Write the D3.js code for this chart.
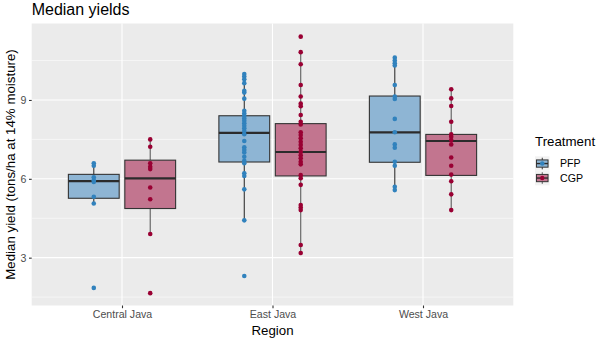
<!DOCTYPE html>
<html>
<head>
<meta charset="utf-8">
<script src="https://cdn.jsdelivr.net/npm/d3@7"></script>
<style>
  body { margin: 0; background: #fff; }
  svg { font-family: "Liberation Sans", Arial, sans-serif; }
</style>
</head>
<body>
<svg width="596" height="341"></svg>
<script>
// categories
const regions = ["Central Java", "East Java", "West Java"];
const treatments = ["PFP", "CGP"];
const yTicks = [3, 6, 9];

// per-farm median yields
const pfpCentral = [6.59, 6.50, 6.06, 5.95, 5.88, 5.32, 5.06, 1.85];
const cgpCentral = [7.50, 7.22, 6.59, 6.46, 6.37, 5.67, 5.22, 3.90, 1.65];
const pfpEast = [9.99, 9.89, 9.79, 9.64, 9.35, 9.28, 9.05, 8.59, 8.49, 8.39, 8.30, 8.21, 8.11, 8.02, 7.92,
  7.82, 7.70, 7.44, 7.20, 7.10, 7.00, 6.84, 6.69, 6.59, 6.21, 6.11, 5.60, 4.42, 2.30];
const cgpEast = [11.41, 10.82, 10.36, 9.57, 9.13, 8.86, 8.76, 8.43, 8.17, 8.07, 7.77, 7.67, 7.54, 7.41, 7.29,
  7.16, 7.03, 6.90, 6.78, 6.65, 6.55, 6.14, 6.02, 5.77, 5.00, 4.91, 4.81, 3.48, 3.18];
const pfpWest = [10.61, 10.50, 10.40, 10.31, 9.57, 9.13, 9.04, 8.28, 7.77, 7.31, 7.18, 6.65, 6.50, 5.70, 5.57];
const cgpWest = [9.41, 9.06, 8.77, 8.17, 7.69, 7.60, 7.48, 7.31, 6.81, 6.50, 6.16, 5.91, 5.41, 4.81];

// box hinges per group (Central PFP, Central CGP, East PFP, East CGP, West PFP, West CGP)
const boxQ1 = [5.26, 4.87, 6.64, 6.11, 6.63, 6.13];
const boxMedian = [5.91, 6.02, 7.75, 7.02, 7.77, 7.44];
const boxQ3 = [6.17, 6.71, 8.40, 8.10, 9.15, 7.69];

const groupValues = [pfpCentral, cgpCentral, pfpEast, cgpEast, pfpWest, cgpWest];
const groups = groupValues.map((vals, i) => {
  const q1 = boxQ1[i], q3 = boxQ3[i], iqr = q3 - q1;
  const inside = vals.filter((v) => v >= q1 - 1.5 * iqr && v <= q3 + 1.5 * iqr);
  return {
    region: regions[Math.floor(i / 2)],
    treatment: treatments[i % 2],
    values: vals,
    q1, q3,
    median: boxMedian[i],
    lo: d3.min(inside),
    hi: d3.max(inside),
  };
});

const svg = d3.select("svg");
const panel = { left: 31.7, right: 513.3, top: 23.5, bottom: 305.5 };

const x = d3.scalePoint().domain(regions).range([panel.left, panel.right]).padding(0.6);
const step = x.step();
const dodge = d3.scaleBand().domain(treatments).range([-0.375 * step, 0.375 * step]);
const boxW = dodge.bandwidth() * 0.9;
const y = d3.scaleLinear().domain([1.18, 11.91]).range([panel.bottom, panel.top]);

const pointColor = d3.scaleOrdinal().domain(treatments).range(["#3182bd", "#990033"]);
const boxFill = d3.scaleOrdinal().domain(treatments).range(["#8eb5d4", "#c2758f"]);
const whiskerColor = d3.scaleOrdinal().domain(treatments).range(["#333333", "#5e5e5e"]);

// panel background + grid
svg.append("rect")
  .attr("x", panel.left).attr("y", panel.top)
  .attr("width", panel.right - panel.left).attr("height", panel.bottom - panel.top)
  .attr("fill", "#ebebeb");

const minor = [1.5, 4.5, 7.5, 10.5];
svg.append("g").selectAll("line").data(minor).enter().append("line")
  .attr("x1", panel.left).attr("x2", panel.right)
  .attr("y1", (d) => y(d)).attr("y2", (d) => y(d))
  .attr("stroke", "#fff").attr("stroke-width", 0.55);
svg.append("g").selectAll("line").data(yTicks).enter().append("line")
  .attr("x1", panel.left).attr("x2", panel.right)
  .attr("y1", (d) => y(d)).attr("y2", (d) => y(d))
  .attr("stroke", "#fff").attr("stroke-width", 1.1);
svg.append("g").selectAll("line").data(regions).enter().append("line")
  .attr("x1", (d) => x(d)).attr("x2", (d) => x(d))
  .attr("y1", panel.top).attr("y2", panel.bottom)
  .attr("stroke", "#fff").attr("stroke-width", 1.1);

// boxplots
const cx = (d) => x(d.region) + dodge(d.treatment) + dodge.bandwidth() / 2;
const box = svg.append("g").selectAll("g").data(groups).enter().append("g");
box.append("line")
  .attr("x1", cx).attr("x2", cx)
  .attr("y1", (d) => y(d.hi)).attr("y2", (d) => y(d.q3))
  .attr("stroke", (d) => whiskerColor(d.treatment)).attr("stroke-width", 1.1);
box.append("line")
  .attr("x1", cx).attr("x2", cx)
  .attr("y1", (d) => y(d.q1)).attr("y2", (d) => y(d.lo))
  .attr("stroke", (d) => whiskerColor(d.treatment)).attr("stroke-width", 1.1);
box.append("rect")
  .attr("x", (d) => cx(d) - boxW / 2).attr("width", boxW)
  .attr("y", (d) => y(d.q3)).attr("height", (d) => y(d.q1) - y(d.q3))
  .attr("fill", (d) => boxFill(d.treatment))
  .attr("stroke", "#333").attr("stroke-width", 1.1);
box.append("line")
  .attr("x1", (d) => cx(d) - boxW / 2).attr("x2", (d) => cx(d) + boxW / 2)
  .attr("y1", (d) => y(d.median)).attr("y2", (d) => y(d.median))
  .attr("stroke", "#2b2b2b").attr("stroke-width", 2.2);

// points
box.selectAll("circle").data((d) => d.values.map((v) => ({ v, g: d }))).enter().append("circle")
  .attr("cx", (d) => cx(d.g)).attr("cy", (d) => y(d.v)).attr("r", 2.3)
  .attr("fill", (d) => pointColor(d.g.treatment));

// axes
const yAxis = svg.append("g")
  .attr("transform", `translate(${panel.left},0)`)
  .call(d3.axisLeft(y).tickValues(yTicks).tickSize(2.7).tickPadding(2.5));
const xAxis = svg.append("g")
  .attr("transform", `translate(0,${panel.bottom})`)
  .call(d3.axisBottom(x).tickSize(2.7).tickPadding(2.5));
[yAxis, xAxis].forEach((a) => {
  a.select(".domain").remove();
  a.selectAll(".tick line").attr("stroke", "#333").attr("stroke-width", 1.1);
  a.selectAll(".tick text").attr("fill", "#4d4d4d").attr("font-size", 10.6)
    .attr("font-family", "Liberation Sans, Arial, sans-serif");
});

// titles
svg.append("text").attr("x", panel.left).attr("y", 15)
  .attr("font-size", 16).attr("fill", "#000").text("Median yields");
svg.append("text").attr("x", (panel.left + panel.right) / 2).attr("y", 335)
  .attr("text-anchor", "middle").attr("font-size", 13.3).text("Region");
svg.append("text")
  .attr("transform", `translate(15,${(panel.top + panel.bottom) / 2}) rotate(-90)`)
  .attr("text-anchor", "middle").attr("font-size", 13.3)
  .text("Median yield (tons/ha at 14% moisture)");

// legend
const legend = svg.append("g").attr("transform", "translate(535,0)");
legend.append("text").attr("x", 0).attr("y", 146).attr("font-size", 13.3).text("Treatment");
const keySize = 14.5;
const keys = legend.selectAll("g.key").data(treatments).enter().append("g")
  .attr("transform", (d, i) => `translate(0,${156.3 + i * keySize})`);
keys.append("rect").attr("width", keySize).attr("height", keySize).attr("fill", "#f2f2f2");
keys.append("line")
  .attr("x1", keySize / 2).attr("x2", keySize / 2)
  .attr("y1", keySize * 0.1).attr("y2", keySize * 0.9)
  .attr("stroke", (d) => whiskerColor(d)).attr("stroke-width", 1);
keys.append("rect")
  .attr("x", keySize * 0.1).attr("width", keySize * 0.8)
  .attr("y", keySize * 0.25).attr("height", keySize * 0.5)
  .attr("fill", (d) => boxFill(d)).attr("stroke", "#333").attr("stroke-width", 1);
keys.append("line")
  .attr("x1", keySize * 0.1).attr("x2", keySize * 0.9)
  .attr("y1", keySize / 2).attr("y2", keySize / 2)
  .attr("stroke", "#2b2b2b").attr("stroke-width", 1.4);
keys.append("circle").attr("cx", keySize / 2).attr("cy", keySize / 2).attr("r", 2.2)
  .attr("fill", (d) => pointColor(d));
keys.append("text").attr("x", 25).attr("y", keySize / 2).attr("dy", "0.35em")
  .attr("font-size", 10.6).attr("fill", "#000").text((d) => d);
</script>
</body>
</html>
